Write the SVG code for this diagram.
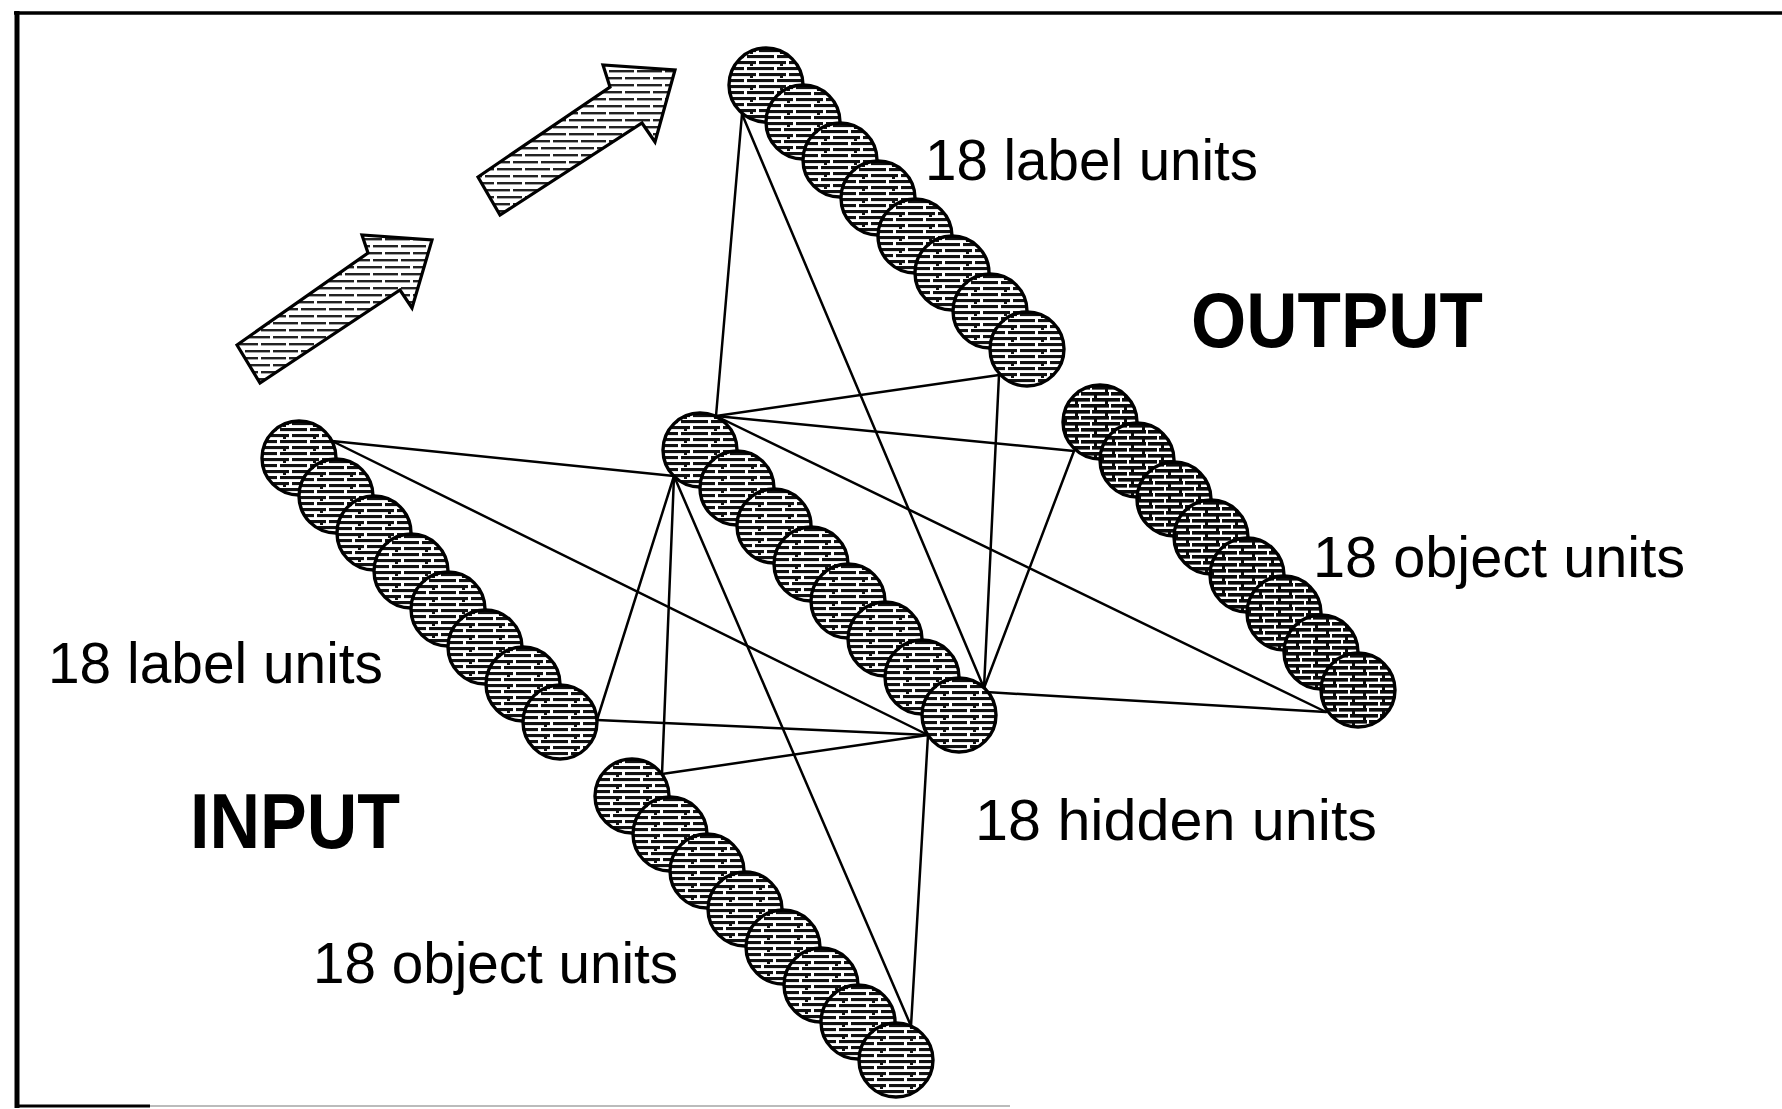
<svg xmlns="http://www.w3.org/2000/svg" width="1782" height="1109" viewBox="0 0 1782 1109">
  <defs>
    <!-- broken horizontal hatching used for units and arrows -->
    <pattern id="hatch" width="30" height="12" patternUnits="userSpaceOnUse">
      <rect width="30" height="12" fill="#fff"/>
      <rect x="0" y="0" width="20" height="3.1" fill="#111"/>
      <rect x="23" y="0" width="7" height="3.1" fill="#111"/>
      <rect x="0" y="6" width="8" height="3.1" fill="#111"/>
      <rect x="11" y="6" width="19" height="3.1" fill="#111"/>
      <rect x="14" y="3" width="3" height="2" fill="#111"/>
    </pattern>
    <pattern id="hatchDark" width="30" height="12" patternUnits="userSpaceOnUse">
      <rect width="30" height="12" fill="#fff"/>
      <rect x="0" y="0" width="20" height="3.6" fill="#0a0a0a"/>
      <rect x="22" y="0" width="8" height="3.6" fill="#0a0a0a"/>
      <rect x="0" y="6" width="9" height="3.6" fill="#0a0a0a"/>
      <rect x="11" y="6" width="19" height="3.6" fill="#0a0a0a"/>
      <rect x="5" y="3" width="3" height="3" fill="#0a0a0a"/>
      <rect x="24" y="9" width="3" height="3" fill="#0a0a0a"/>
    </pattern>
    <pattern id="hatchLight" width="28" height="14" patternUnits="userSpaceOnUse">
      <rect width="28" height="14" fill="#fff"/>
      <rect x="0" y="0" width="18" height="2.4" fill="#222"/>
      <rect x="21" y="0" width="7" height="2.4" fill="#222"/>
      <rect x="0" y="7" width="6" height="2.4" fill="#222"/>
      <rect x="9" y="7" width="19" height="2.4" fill="#222"/>
    </pattern>
    <circle id="unit" r="37" fill="url(#hatch)" stroke="#000" stroke-width="3.4"/>
    <circle id="unitDark" r="37" fill="url(#hatchDark)" stroke="#000" stroke-width="3.4"/>
  </defs>
  <style>
    .frame { stroke: #000; fill: none; }
    .link { stroke: #000; stroke-width: 2.5; fill: none; stroke-linecap: round; }
    .arrow { fill: url(#hatchLight); stroke: #000; stroke-width: 3.2; stroke-linejoin: miter; }
    .label { font-family: "Liberation Sans", Arial, Helvetica, sans-serif; font-size: 57px; fill: #000; }
    .title { font-family: "Liberation Sans", Arial, Helvetica, sans-serif; font-size: 78px; font-weight: bold; fill: #000; }
  </style>

  <rect width="1782" height="1109" fill="#fff"/>

  <!-- border -->
  <g id="frame">
    <line class="frame" x1="14" y1="13" x2="1782" y2="13" stroke-width="3.5"/>
    <line class="frame" x1="17" y1="11" x2="17" y2="1108" stroke-width="5"/>
    <line class="frame" x1="15" y1="1106" x2="150" y2="1106" stroke-width="3"/>
    <line x1="150" y1="1106" x2="1010" y2="1106" stroke="#bbb" stroke-width="2"/>
  </g>

  <!-- direction arrows -->
  <g id="arrow-lower">
    <polygon class="arrow" points="237,345 368,253 362,235 432,240 412,308 400,290 260,383"/>
  </g>
  <g id="arrow-upper">
    <polygon class="arrow" points="478,177 610,87 603,65 675,70 655,142 642,123 500,215"/>
  </g>

  <!-- connections between the end units of each layer -->
  <g id="connectors">
    <!-- input to hidden -->
    <line class="link" x1="332" y1="441" x2="674" y2="476"/>
    <line class="link" x1="332" y1="441" x2="928" y2="735"/>
    <line class="link" x1="597" y1="720" x2="674" y2="476"/>
    <line class="link" x1="597" y1="720" x2="928" y2="735"/>
    <line class="link" x1="662" y1="774" x2="674" y2="476"/>
    <line class="link" x1="662" y1="774" x2="928" y2="735"/>
    <line class="link" x1="911" y1="1026" x2="674" y2="476"/>
    <line class="link" x1="911" y1="1026" x2="928" y2="735"/>
    <!-- hidden to output -->
    <line class="link" x1="716" y1="416" x2="742" y2="114"/>
    <line class="link" x1="716" y1="416" x2="999" y2="375"/>
    <line class="link" x1="716" y1="416" x2="1074" y2="451"/>
    <line class="link" x1="716" y1="416" x2="1326" y2="712"/>
    <line class="link" x1="984" y1="688" x2="742" y2="114"/>
    <line class="link" x1="984" y1="688" x2="999" y2="375"/>
    <line class="link" x1="984" y1="688" x2="1074" y2="451"/>
    <line class="link" x1="986" y1="692" x2="1326" y2="712"/>
  </g>

  <!-- output label layer -->
  <g id="output-label-units">
    <use href="#unit" x="766" y="85"/>
    <use href="#unit" x="803" y="122"/>
    <use href="#unit" x="840" y="160"/>
    <use href="#unit" x="878" y="198"/>
    <use href="#unit" x="915" y="236"/>
    <use href="#unit" x="952" y="273"/>
    <use href="#unit" x="990" y="311"/>
    <use href="#unit" x="1027" y="349"/>
  </g>

  <!-- output object layer -->
  <g id="output-object-units">
    <use href="#unitDark" x="1100" y="422"/>
    <use href="#unitDark" x="1137" y="460"/>
    <use href="#unitDark" x="1174" y="499"/>
    <use href="#unitDark" x="1211" y="537"/>
    <use href="#unitDark" x="1247" y="575"/>
    <use href="#unitDark" x="1284" y="613"/>
    <use href="#unitDark" x="1321" y="652"/>
    <use href="#unitDark" x="1358" y="690"/>
  </g>

  <!-- hidden layer -->
  <g id="hidden-units">
    <use href="#unit" x="700" y="450"/>
    <use href="#unit" x="737" y="488"/>
    <use href="#unit" x="774" y="526"/>
    <use href="#unit" x="811" y="564"/>
    <use href="#unit" x="848" y="601"/>
    <use href="#unit" x="885" y="639"/>
    <use href="#unit" x="922" y="677"/>
    <use href="#unit" x="959" y="715"/>
  </g>

  <!-- input label layer -->
  <g id="input-label-units">
    <use href="#unit" x="299" y="458"/>
    <use href="#unit" x="336" y="496"/>
    <use href="#unit" x="374" y="533"/>
    <use href="#unit" x="411" y="571"/>
    <use href="#unit" x="448" y="609"/>
    <use href="#unit" x="485" y="647"/>
    <use href="#unit" x="523" y="684"/>
    <use href="#unit" x="560" y="722"/>
  </g>

  <!-- input object layer -->
  <g id="input-object-units">
    <use href="#unit" x="632" y="796"/>
    <use href="#unit" x="670" y="834"/>
    <use href="#unit" x="707" y="871"/>
    <use href="#unit" x="745" y="909"/>
    <use href="#unit" x="783" y="947"/>
    <use href="#unit" x="821" y="985"/>
    <use href="#unit" x="858" y="1022"/>
    <use href="#unit" x="896" y="1060"/>
  </g>

  <!-- captions -->
  <g id="captions">
    <text class="label" x="925" y="180" textLength="333" lengthAdjust="spacingAndGlyphs">18 label units</text>
    <text class="title" x="1191" y="347" textLength="292" lengthAdjust="spacingAndGlyphs">OUTPUT</text>
    <text class="label" x="1313" y="577" textLength="372" lengthAdjust="spacingAndGlyphs">18 object units</text>
    <text class="label" x="48" y="683" textLength="335" lengthAdjust="spacingAndGlyphs">18 label units</text>
    <text class="title" x="190" y="848" textLength="210" lengthAdjust="spacingAndGlyphs">INPUT</text>
    <text class="label" x="975" y="840" textLength="402" lengthAdjust="spacingAndGlyphs">18 hidden units</text>
    <text class="label" x="313" y="983" textLength="365" lengthAdjust="spacingAndGlyphs">18 object units</text>
  </g>
</svg>
